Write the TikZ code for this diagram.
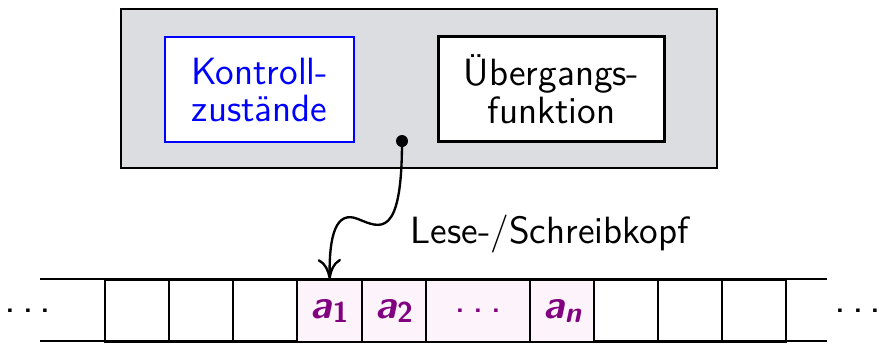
\documentclass[tikz,border=0pt]{standalone}
\usetikzlibrary{arrows.meta}
\definecolor{boxgray}{RGB}{220,221,224}
\definecolor{cellpink}{RGB}{252,244,250}
\definecolor{sympurple}{RGB}{128,0,128}
\def\PX{0.3pt}
\newcommand\tdots{{\fontsize{13}{13}\selectfont .\kern1.8pt.\kern1.8pt.}}
\newcommand\tsym[2]{{\fontsize{12}{12}\selectfont\bfseries\slshape a}\kern0.2pt\raisebox{-1.2pt}{\fontsize{8.6}{8.6}\selectfont\bfseries #2}}
\begin{document}
\begin{tikzpicture}[x=0.3pt,y=-0.3pt,
  font=\sffamily\fontsize{11.4}{11.2}\selectfont,
  cell/.style={draw, line width=0.7pt, minimum height=62*\PX, inner sep=0pt, anchor=north west},
  symcell/.style={cell, fill=cellpink, text=sympurple},
  tapeline/.style={line width=0.8pt},
  innerbox/.style={minimum height=105*\PX, inner sep=0pt, align=center, fill=white, anchor=north west}]
\useasboundingbox (0,0) rectangle (879,343);
% control unit
\node[draw, fill=boxgray, line width=0.7pt, minimum width=596*\PX, minimum height=159*\PX,
      inner sep=0pt, anchor=north west] (cpu) at (120,8) {};
\node[innerbox, draw=blue, text=blue, line width=0.7pt, minimum width=189*\PX] (ctrl) at (164,36)
  {Kontroll-\\zustände};
\node[innerbox, draw=black, line width=1pt, minimum width=226*\PX] (trans) at (437,35)
  {Übergangs-\\funktion};
\node[circle, fill=black, inner sep=0pt, minimum size=12*\PX] (head) at (402,141) {};
% tape
\coordinate (tl) at (40,279);
\coordinate (tr) at (827,279);
\coordinate (bl) at (40,341);
\coordinate (br) at (827,341);
\draw[tapeline] (tl) -- (tr);
\draw[tapeline] (bl) -- (br);
\node[cell, minimum width=64*\PX] (c1) at (104,279) {};
\node[cell, minimum width=64*\PX] (c2) at (168,279) {};
\node[cell, minimum width=64*\PX] (c3) at (232,279) {};
\node[symcell, minimum width=65*\PX] (a1) at (296,279) {\tsym{a}{1}};
\node[symcell, minimum width=64*\PX] (a2) at (361,279) {\tsym{a}{2}};
\node[symcell, minimum width=104*\PX] (ad) at (425,279) {\tdots};
\node[symcell, minimum width=64*\PX] (an) at (529,279) {\tsym{a}{\slshape n}};
\node[cell, minimum width=64*\PX] (c8) at (593,279) {};
\node[cell, minimum width=64*\PX] (c9) at (657,279) {};
\node[cell, minimum width=64*\PX] (c10) at (721,279) {};
\node[inner sep=0pt] (ldots) at (28,311) {\tdots};
\node[inner sep=0pt] (rdots) at (858,311) {\tdots};
% head connector
\draw[line width=0.7pt, -{To[length=6pt,width=7pt]}] (head.center)
  .. controls (402,240) and (380,228) .. (358,219)
  .. controls (336,210) and (329,235) .. (a1.north);
\node[anchor=base west, inner sep=0pt] (lbl) at (410,243) {Lese-/Schreibkopf};
\end{tikzpicture}
\end{document}
